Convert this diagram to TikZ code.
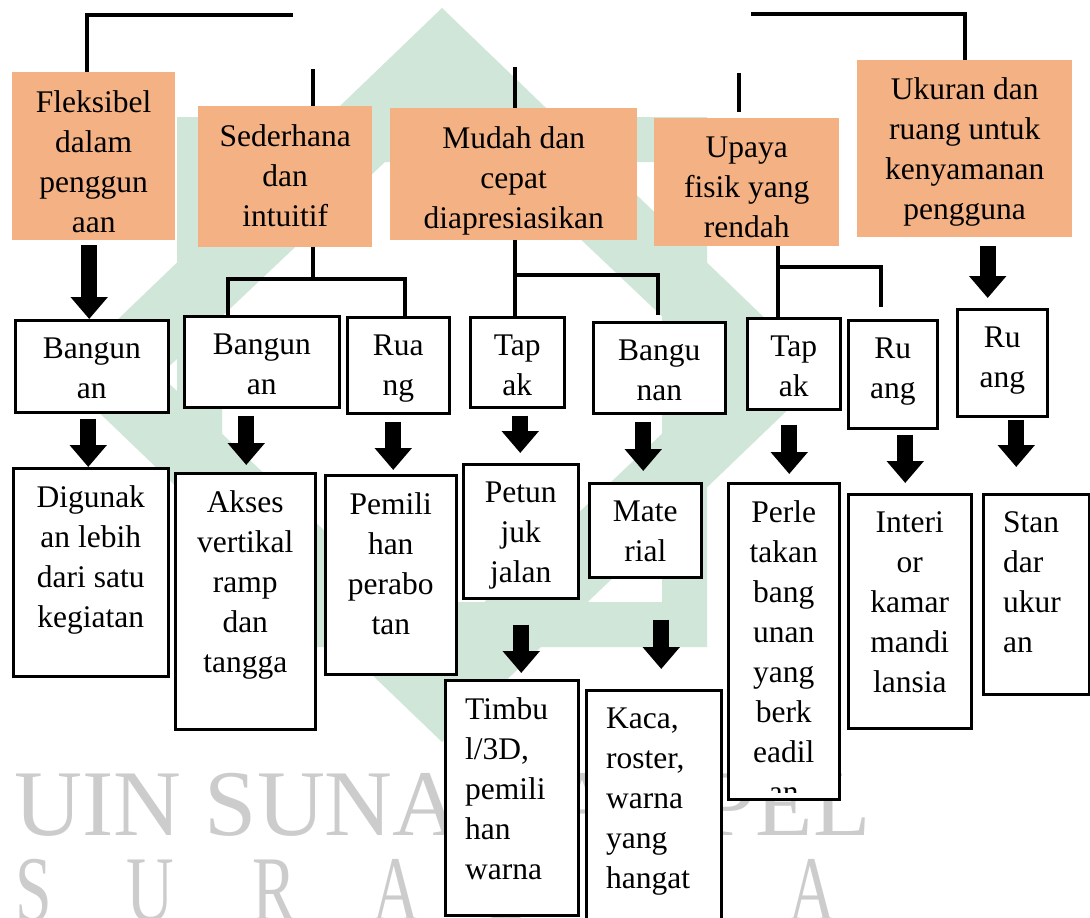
\documentclass[tikz,border=0pt]{standalone}
\usepackage{fontspec}
\setmainfont{Liberation Serif}
\usetikzlibrary{calc,arrows.meta}
\definecolor{boxorange}{HTML}{F4B183}
\definecolor{wmgreen}{HTML}{CFE6D9}
\tikzset{
  obox/.style={fill=boxorange, inner sep=0, anchor=north west},
  wbox/.style={draw, line width=2.5pt, fill=white, inner sep=0, anchor=north west},
  txt/.style={font=\fontsize{31.5}{40}\selectfont, align=center, inner sep=0, anchor=north},
  ltxt/.style={txt, align=left, anchor=north west},
  conn/.style={line width=4pt},
  blk/.style={line width=16pt, -{Triangle[length=22pt,width=36pt]}},
  wmtext/.style={text=black!20, font=\fontsize{94}{94}\selectfont, inner sep=0, anchor=base west}
}

\begin{document}
\begin{tikzpicture}[x=1pt,y=-1pt]
\path[use as bounding box, fill=white] (0,0) rectangle (1090,918);

% watermark
\fill[wmgreen, even odd rule] (442,8) -- (824,375) -- (442,742) -- (60,375) -- cycle
  (442,108) -- (724,375) -- (442,642) -- (160,375) -- cycle;
\fill[wmgreen, even odd rule] (177,117) rectangle (707,647) (222,162) rectangle (662,602);
\node[wmtext] (wm) at (14,835) {UIN SUNAN AMPEL};
\foreach \c/\x in {S/15,U/126,R/252,A/372,B/485,A/585,Y/672,A/788}
  \node[wmtext] (wm-\x) at (\x,921) {\scalebox{0.7}[1]{\c}};

% top row
\node[obox, minimum width=163pt, minimum height=168pt] (fleks) at (12,72) {};
\node[txt] (fleks-t) at ([yshift=-18.5pt]fleks.north) {Fleksibel\\dalam\\penggun\\aan};
\node[obox, minimum width=174pt, minimum height=141pt] (seder) at (198,106) {};
\node[txt] (seder-t) at ([yshift=-18.5pt]seder.north) {Sederhana\\dan\\intuitif};
\node[obox, minimum width=247pt, minimum height=132pt] (mudah) at (390,108) {};
\node[txt] (mudah-t) at ([yshift=-18.5pt]mudah.north) {Mudah dan\\cepat\\diapresiasikan};
\node[obox, minimum width=185pt, minimum height=128pt] (upaya) at (654,118) {};
\node[txt] (upaya-t) at ([yshift=-18.5pt]upaya.north) {Upaya\\fisik yang\\rendah};
\node[obox, minimum width=215pt, minimum height=177pt] (ukuran) at (857,60) {};
\node[txt] (ukuran-t) at ([yshift=-17pt]ukuran.north) {Ukuran dan\\ruang untuk\\kenyamanan\\pengguna};

% second row
\node[wbox, minimum width=153pt, minimum height=92pt] (bang1) at (14,319) {};
\node[txt] (bang1-t) at ([yshift=-18.5pt]bang1.north) {Bangun\\an};
\node[wbox, minimum width=155pt, minimum height=91pt] (bang2) at (183,315) {};
\node[txt] (bang2-t) at ([yshift=-18.5pt]bang2.north) {Bangun\\an};
\node[wbox, minimum width=102pt, minimum height=96pt] (ruang1) at (346,316) {};
\node[txt] (ruang1-t) at ([yshift=-18.5pt]ruang1.north) {Rua\\ng};
\node[wbox, minimum width=94pt, minimum height=90pt] (tapak1) at (469,316) {};
\node[txt] (tapak1-t) at ([yshift=-18.5pt]tapak1.north) {Tap\\ak};
\node[wbox, minimum width=132pt, minimum height=91pt] (bang3) at (592,321) {};
\node[txt] (bang3-t) at ([yshift=-18.5pt]bang3.north) {Bangu\\nan};
\node[wbox, minimum width=93pt, minimum height=91pt] (tapak2) at (746,317) {};
\node[txt] (tapak2-t) at ([yshift=-18.5pt]tapak2.north) {Tap\\ak};
\node[wbox, minimum width=89pt, minimum height=108pt] (ruang2) at (847,319) {};
\node[txt] (ruang2-t) at ([yshift=-18.5pt]ruang2.north) {Ru\\ang};
\node[wbox, minimum width=90pt, minimum height=107pt] (ruang3) at (956,308) {};
\node[txt] (ruang3-t) at ([yshift=-18.5pt]ruang3.north) {Ru\\ang};

% third row
\node[wbox, minimum width=155pt, minimum height=208pt] (dig) at (12,467) {};
\node[txt] (dig-t) at ([yshift=-18.5pt]dig.north) {Digunak\\an lebih\\dari satu\\kegiatan};
\node[wbox, minimum width=140pt, minimum height=256pt] (akses) at (174,472) {};
\node[txt] (akses-t) at ([yshift=-18.5pt]akses.north) {Akses\\vertikal\\ramp\\dan\\tangga};
\node[wbox, minimum width=131pt, minimum height=199pt] (pemili) at (324,474) {};
\node[txt] (pemili-t) at ([yshift=-18.5pt]pemili.north) {Pemili\\han\\perabo\\tan};
\node[wbox, minimum width=115pt, minimum height=134pt] (petun) at (462,463) {};
\node[txt] (petun-t) at ([yshift=-18.5pt]petun.north) {Petun\\juk\\jalan};
\node[wbox, minimum width=112pt, minimum height=94pt] (mate) at (588,482) {};
\node[txt] (mate-t) at ([yshift=-18.5pt]mate.north) {Mate\\rial};
\node[wbox, minimum width=111pt, minimum height=316pt] (perle) at (727,482) {};
\begin{scope}
\clip (perle.north west) rectangle ([yshift=8pt]perle.south east);
\node[txt] (perle-t) at ([yshift=-18.5pt]perle.north) {Perle\\takan\\bang\\unan\\yang\\berk\\eadil\\an};
\end{scope}
\node[wbox, minimum width=123pt, minimum height=234pt] (interi) at (847,493) {};
\node[txt] (interi-t) at ([yshift=-18.5pt]interi.north) {Interi\\or\\kamar\\mandi\\lansia};
\node[wbox, minimum width=106pt, minimum height=200pt] (stan) at (982,493) {};
\node[ltxt] (stan-t) at ([xshift=21pt,yshift=-18.5pt]stan.north west) {Stan\\dar\\ukur\\an};

% fourth row
\node[wbox, minimum width=133pt, minimum height=235pt] (timbul) at (444,679) {};
\node[ltxt] (timbul-t) at ([xshift=21pt,yshift=-18.5pt]timbul.north west) {Timbu\\l/3D,\\pemili\\han\\warna};
\node[wbox, minimum width=135pt, minimum height=245pt] (kaca) at (585,689) {};
\node[ltxt] (kaca-t) at ([xshift=21pt,yshift=-18.5pt]kaca.north west) {Kaca,\\roster,\\warna\\yang\\hangat};

% lines
\coordinate (tl) at (293,15);
\draw[conn] (tl) -| ([xshift=-7pt]fleks.north);
\coordinate (tr) at (751,14);
\draw[conn] (tr) -| (ukuran.north);

\coordinate (sdtop) at (313,69);
\draw[conn] (sdtop) -- (sdtop |- seder.north);
\coordinate (sdj) at (313,279);
\coordinate (sdl) at (228,279);
\coordinate (sdr) at (405,279);
\draw[conn] (sdj |- seder.south) -- (sdj);
\draw[conn] (sdl |- bang2.north) -- (sdl) -- (sdr) -- (sdr |- ruang1.north);

\coordinate (mdtop) at (515,67);
\draw[conn] (mdtop) -- (mdtop |- mudah.north);
\coordinate (mdj) at (515,275);
\coordinate (mdr) at (658,275);
\coordinate (mdb) at (658,315);
\draw[conn] (mdj |- mudah.south) -- (mdj |- tapak1.north);
\draw[conn] (mdj) -- (mdr) -- (mdb);

\coordinate (uptop) at (739,73);
\coordinate (upstub) at (739,112);
\draw[conn] (uptop) -- (upstub);
\coordinate (upj) at (778,267);
\coordinate (upr) at (881,267);
\coordinate (upb) at (881,307);
\draw[conn] (upj |- upaya.south) -- (upj |- tapak2.north);
\draw[conn] (upj) -- (upr) -- (upb);

% block arrows
\foreach \a/\b/\dx/\sa/\sb in {fleks/bang1/-4.5/5/0, bang1/dig/-3.5/5/0,
    bang2/akses/-15.5/7/7, ruang1/pemili/-5/7/4, tapak1/petun/3/7/10,
    petun/timbul/0.5/25/6, bang3/mate/-16/7/11, mate/kaca/16/41/20,
    tapak2/perle/-4.5/14/8, ruang2/interi/12.5/5/10, ukuran/ruang3/23/9/10,
    ruang3/stan/14/2/26}
  \draw[blk, shorten <=\sa pt, shorten >=\sb pt] ([xshift=\dx pt]\a.south) -- ([xshift=\dx pt]\a.south |- \b.north);
\end{tikzpicture}
\end{document}
